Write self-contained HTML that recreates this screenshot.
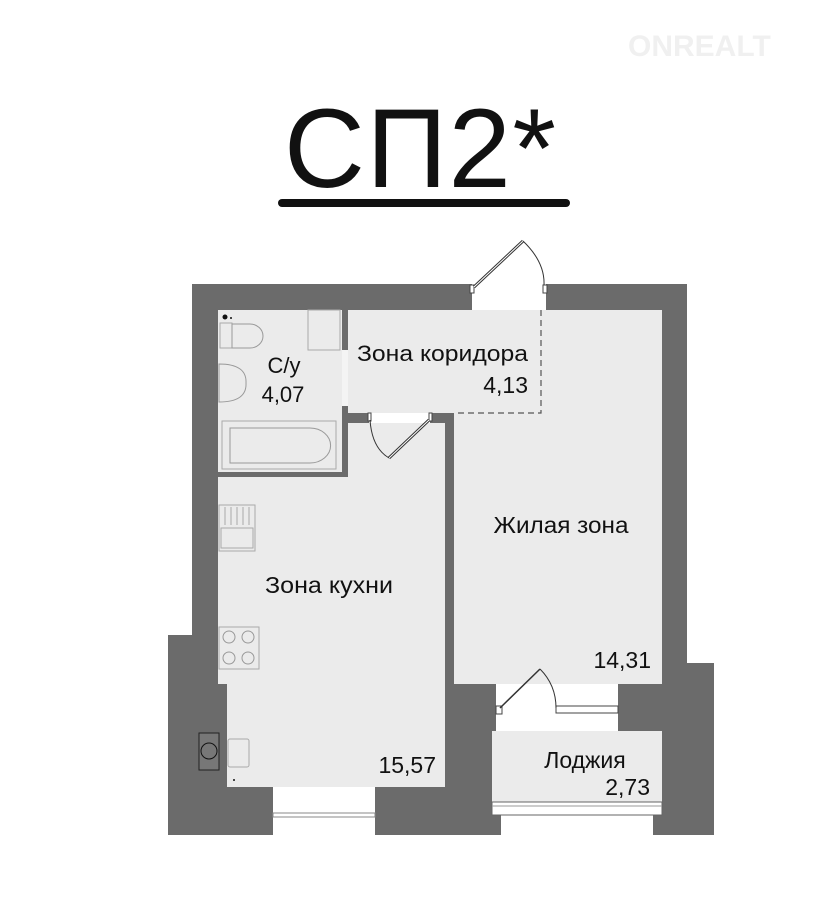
<!DOCTYPE html>
<html><head><meta charset="utf-8"><style>
html,body{margin:0;padding:0;background:#fff;}
svg{display:block;}
text{font-family:"Liberation Sans","DejaVu Sans",sans-serif;fill:#111;}
</style></head><body>
<svg width="823" height="910" viewBox="0 0 823 910" xmlns="http://www.w3.org/2000/svg">
<rect width="823" height="910" fill="#fff"/>
<!-- watermark -->
<text x="628" y="56" font-size="30" font-weight="bold" style="fill:#f0f0f0">ONREALT</text>
<!-- title -->
<text x="284" y="187" font-size="112" textLength="272">СП2*</text>
<rect x="278" y="199" width="292" height="8" rx="4" fill="#111"/>
<!-- walls -->
<polygon points="192,284 472,284 472,310 546,310 546,284 687,284 687,663 714,663 714,835 653,835 653,815 501,815 501,835 168,835 168,635 192,635" fill="#6b6b6b"/>
<!-- rooms -->
<rect x="218" y="310" width="124" height="162" fill="#ebebeb"/>
<rect x="348" y="310" width="314" height="103" fill="#ebebeb"/>
<rect x="454" y="310" width="208" height="374" fill="#ebebeb"/>
<rect x="342" y="350" width="6" height="56" fill="#f4f4f4"/>
<rect x="472" y="284" width="74" height="26" fill="#fff"/>
<polygon points="218,477 348,477 348,423 445,423 445,787 227,787 227,684 218,684" fill="#ebebeb"/>
<rect x="369" y="413" width="61" height="10" fill="#fff"/>
<rect x="496" y="684" width="122" height="47" fill="#fff"/>
<rect x="492" y="731" width="170" height="84" fill="#ebebeb"/>
<rect x="492" y="802" width="170" height="13" fill="#fff" stroke="#666" stroke-width="1"/>
<line x1="492" y1="806" x2="662" y2="806" stroke="#999"/>
<rect x="273" y="787" width="102" height="48" fill="#fff"/>
<rect x="273" y="813" width="102" height="4" fill="#fff" stroke="#888" stroke-width="1"/>
<!-- dashed corridor -->
<path d="M541,310 V413 H454" fill="none" stroke="#555" stroke-width="1.2" stroke-dasharray="6,4"/>
<!-- entrance door -->
<rect x="470" y="285" width="4" height="8" fill="#fff" stroke="#444"/>
<rect x="543" y="285" width="4" height="8" fill="#fff" stroke="#444"/>
<line x1="474" y1="287" x2="523" y2="241" stroke="#333" stroke-width="3"/>
<line x1="474" y1="287" x2="523" y2="241" stroke="#fff" stroke-width="1"/>
<path d="M523,241 Q545,262 544,285" fill="none" stroke="#333"/>
<!-- bathroom door -->
<rect x="368" y="413" width="3" height="8" fill="#fff" stroke="#444"/>
<rect x="429" y="413" width="3" height="8" fill="#fff" stroke="#444"/>
<line x1="429" y1="420" x2="389" y2="458" stroke="#333" stroke-width="3"/>
<line x1="429" y1="420" x2="389" y2="458" stroke="#fff" stroke-width="1"/>
<path d="M370,420 Q372,448 389,458" fill="none" stroke="#333"/>
<!-- balcony door -->
<rect x="496" y="706" width="6" height="8" fill="#fff" stroke="#444"/>
<rect x="556" y="706" width="62" height="7" fill="#fff" stroke="#444"/>
<line x1="500" y1="708" x2="540" y2="669" stroke="#333" stroke-width="1.5"/>
<path d="M540,669 Q556,685 556,708" fill="none" stroke="#333"/>
<!-- bathroom fixtures -->
<circle cx="225" cy="317" r="2.5" fill="#111"/><circle cx="231" cy="318" r="1" fill="#111"/>
<rect x="220" y="323" width="12" height="25" fill="none" stroke="#aaa"/>
<path d="M232,324 H250 A13,12 0 0 1 250,348 H232 Z" fill="none" stroke="#999"/>
<rect x="308" y="310" width="32" height="40" fill="none" stroke="#aaa"/>
<path d="M219,364 Q247,364 246,383 Q247,402 219,402 Z" fill="none" stroke="#999"/>
<rect x="222" y="421" width="114" height="48" fill="none" stroke="#aaa"/>
<path d="M230,428 H310 A20,17 0 0 1 310,463 H230 Z" fill="none" stroke="#999"/>
<!-- kitchen fixtures -->
<rect x="219" y="505" width="36" height="46" fill="none" stroke="#aaa"/>
<g stroke="#aaa"><line x1="225" y1="507" x2="225" y2="525"/><line x1="231" y1="507" x2="231" y2="525"/><line x1="237" y1="507" x2="237" y2="525"/><line x1="243" y1="507" x2="243" y2="525"/><line x1="249" y1="507" x2="249" y2="525"/></g>
<rect x="221" y="528" width="32" height="20" fill="none" stroke="#aaa"/>
<rect x="219" y="627" width="40" height="42" fill="none" stroke="#aaa"/>
<g fill="none" stroke="#999"><circle cx="229" cy="637" r="6"/><circle cx="248" cy="637" r="6"/><circle cx="229" cy="658" r="6"/><circle cx="248" cy="658" r="6"/></g>
<rect x="199" y="733" width="20" height="37" fill="#777" stroke="#222"/>
<circle cx="209" cy="751" r="8" fill="none" stroke="#111"/>
<rect x="228" y="739" width="21" height="28" rx="2" fill="none" stroke="#aaa"/>
<circle cx="234" cy="780" r="1" fill="#111"/>
<!-- labels -->
<text x="284" y="373" font-size="22" text-anchor="middle">С/у</text>
<text x="283" y="402" font-size="22" text-anchor="middle">4,07</text>
<text x="357" y="361" font-size="22" textLength="171" lengthAdjust="spacingAndGlyphs">Зона коридора</text>
<text x="528" y="393" font-size="23" text-anchor="end">4,13</text>
<text x="561" y="533" font-size="23" text-anchor="middle" textLength="135" lengthAdjust="spacingAndGlyphs">Жилая зона</text>
<text x="329" y="593" font-size="23" text-anchor="middle" textLength="128" lengthAdjust="spacingAndGlyphs">Зона кухни</text>
<text x="651" y="668" font-size="23" text-anchor="end">14,31</text>
<text x="436" y="773" font-size="23" text-anchor="end">15,57</text>
<text x="585" y="768" font-size="23" text-anchor="middle">Лоджия</text>
<text x="650" y="795" font-size="23" text-anchor="end">2,73</text>
</svg>
</body></html>
